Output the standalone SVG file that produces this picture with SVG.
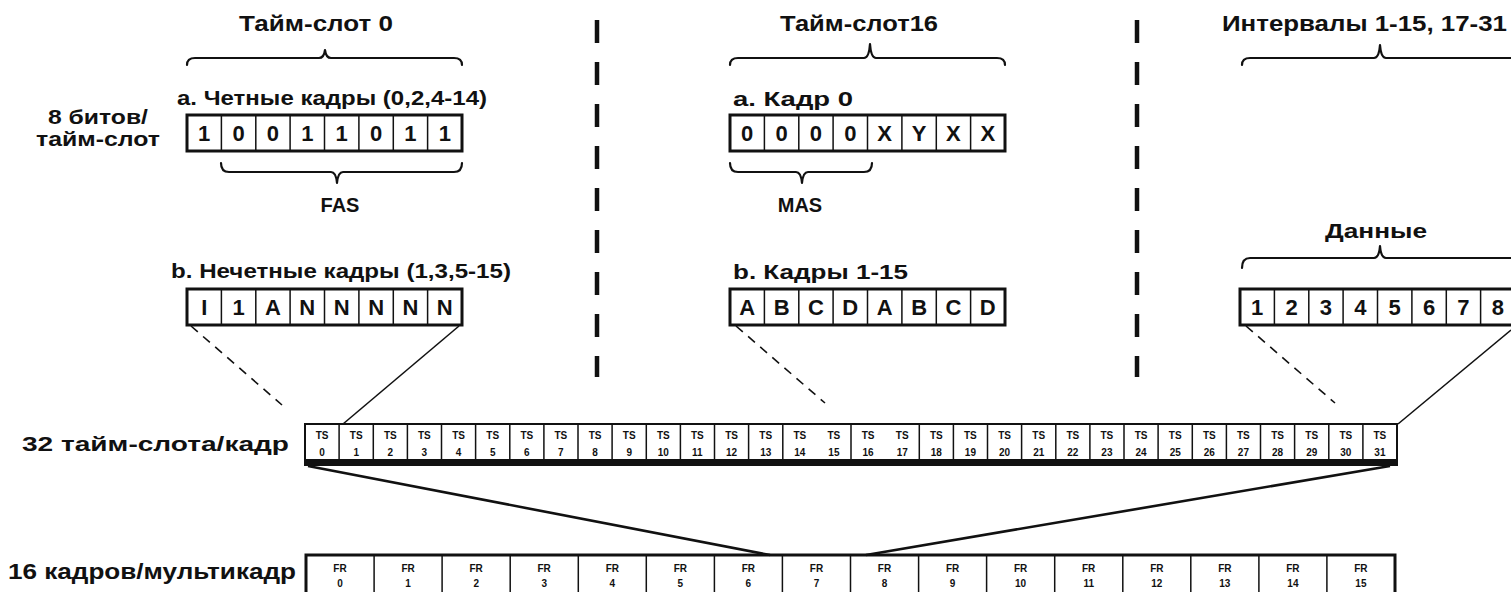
<svg xmlns="http://www.w3.org/2000/svg" xmlns:xlink="http://www.w3.org/1999/xlink" width="1511" height="592" viewBox="0 0 1511 592">
<style>
text{font-family:"Liberation Sans",Arial,sans-serif;font-weight:bold;fill:#111}
.t{font-size:22px}
.l{font-size:20px}
.b{font-size:22px;text-anchor:middle}
.s{font-size:10px;text-anchor:middle}
.f{font-size:10px;text-anchor:middle}
.m{text-anchor:middle}
.brace{fill:none;stroke:#111;stroke-width:2.2;stroke-linecap:round;stroke-linejoin:round}
.frame{fill:#fff;stroke:#111;stroke-width:3}
.div{fill:none;stroke:#111;stroke-width:1.5}
.sep{fill:none;stroke:#111;stroke-width:4.5;stroke-dasharray:23 19}
.cn{fill:none;stroke:#111;stroke-width:1.6}
.dash{stroke-dasharray:9 7}
.thick{stroke-width:2.6}
</style>
<defs>
<g id="frame8">
<rect class="frame" x="0" y="0" width="275" height="36"/>
<path class="div" d="M34.4 0V36M68.8 0V36M103.1 0V36M137.5 0V36M171.9 0V36M206.3 0V36M240.6 0V36"/>
</g>
</defs>
<rect width="1511" height="592" fill="#fff"/>

<g id="separators">
<line class="sep" x1="597" y1="20" x2="597" y2="377"/>
<line class="sep" x1="1137" y1="20" x2="1137" y2="377"/>
</g>

<g id="ts0-group">
<text class="t m" x="316" y="31" textLength="154" lengthAdjust="spacingAndGlyphs">Тайм-слот 0</text>
<path class="brace" d="M187 65Q187 58 195 58H319Q324 58 325 50Q326 58 331 58H454Q462 58 462 65"/>
<text class="l" x="48" y="124" textLength="100" lengthAdjust="spacingAndGlyphs">8 битов/</text>
<text class="l" x="36" y="146" textLength="124" lengthAdjust="spacingAndGlyphs">тайм-слот</text>
</g>

<g id="ts0-even">
<text class="l" x="177" y="105" textLength="310" lengthAdjust="spacingAndGlyphs">a. Четные кадры (0,2,4-14)</text>
<use xlink:href="#frame8" href="#frame8" transform="translate(187,115)"/>
<text class="b" y="141" x="204.2">1</text><text class="b" y="141" x="238.6">0</text><text class="b" y="141" x="272.9">0</text><text class="b" y="141" x="307.3">1</text><text class="b" y="141" x="341.7">1</text><text class="b" y="141" x="376.1">0</text><text class="b" y="141" x="410.4">1</text><text class="b" y="141" x="444.8">1</text>
<path class="brace" d="M221 163Q221 172 229 172H331Q336 172 337 183Q338 172 343 172H454Q462 172 462 163"/>
<text class="l m" x="340" y="212">FAS</text>
</g>

<g id="ts0-odd">
<text class="l" x="171" y="278" textLength="340" lengthAdjust="spacingAndGlyphs">b. Нечетные кадры (1,3,5-15)</text>
<use xlink:href="#frame8" href="#frame8" transform="translate(187,289)"/>
<text class="b" y="315" x="204.2">I</text><text class="b" y="315" x="238.6">1</text><text class="b" y="315" x="272.9">A</text><text class="b" y="315" x="307.3">N</text><text class="b" y="315" x="341.7">N</text><text class="b" y="315" x="376.1">N</text><text class="b" y="315" x="410.4">N</text><text class="b" y="315" x="444.8">N</text>
</g>

<g id="ts16-group">
<text class="t m" x="859" y="31" textLength="158" lengthAdjust="spacingAndGlyphs">Тайм-слот16</text>
<path class="brace" d="M730 65Q730 58 738 58H864Q869 58 870 44Q871 58 876 58H997Q1005 58 1005 65"/>
</g>

<g id="ts16-frame0">
<text class="l" x="733" y="106" textLength="120" lengthAdjust="spacingAndGlyphs">a. Кадр 0</text>
<use xlink:href="#frame8" href="#frame8" transform="translate(730,115)"/>
<text class="b" y="141" x="747.2">0</text><text class="b" y="141" x="781.6">0</text><text class="b" y="141" x="815.9">0</text><text class="b" y="141" x="850.3">0</text><text class="b" y="141" x="884.7">X</text><text class="b" y="141" x="919.1">Y</text><text class="b" y="141" x="953.4">X</text><text class="b" y="141" x="987.8">X</text>
<path class="brace" d="M730 163Q730 172 738 172H796Q801 172 802 183Q803 172 808 172H864Q872 172 872 163"/>
<text class="l m" x="800" y="212">MAS</text>
</g>

<g id="ts16-frames">
<text class="l" x="733" y="279" textLength="175" lengthAdjust="spacingAndGlyphs">b. Кадры 1-15</text>
<use xlink:href="#frame8" href="#frame8" transform="translate(730,289)"/>
<text class="b" y="315" x="747.2">A</text><text class="b" y="315" x="781.6">B</text><text class="b" y="315" x="815.9">C</text><text class="b" y="315" x="850.3">D</text><text class="b" y="315" x="884.7">A</text><text class="b" y="315" x="919.1">B</text><text class="b" y="315" x="953.4">C</text><text class="b" y="315" x="987.8">D</text>
</g>

<g id="data-group">
<text class="t m" x="1364.5" y="31" textLength="285" lengthAdjust="spacingAndGlyphs">Интервалы 1-15, 17-31</text>
<path class="brace" d="M1242 65Q1242 58 1250 58H1374Q1379 58 1380 45Q1381 58 1386 58H1520"/>
<text class="l m" x="1376" y="238" textLength="102" lengthAdjust="spacingAndGlyphs">Данные</text>
<path class="brace" d="M1242 268Q1242 258 1250 258H1374Q1379 258 1380 246Q1381 258 1386 258H1520"/>
<use xlink:href="#frame8" href="#frame8" transform="translate(1240,289)"/>
<text class="b" y="315" x="1257.2">1</text><text class="b" y="315" x="1291.6">2</text><text class="b" y="315" x="1325.9">3</text><text class="b" y="315" x="1360.3">4</text><text class="b" y="315" x="1394.7">5</text><text class="b" y="315" x="1429.1">6</text><text class="b" y="315" x="1463.4">7</text><text class="b" y="315" x="1497.8">8</text>
</g>

<g id="frame-row">
<text class="l" x="22" y="451" textLength="267" lengthAdjust="spacingAndGlyphs">32 тайм-слота/кадр</text>
<rect x="305" y="424" width="1092" height="38" fill="#fff" stroke="#111" stroke-width="2"/>
<rect x="304" y="459" width="1094" height="7" fill="#111"/>
<path class="div" d="M339.1 424V459M373.3 424V459M407.4 424V459M441.5 424V459M475.6 424V459M509.8 424V459M543.9 424V459M578 424V459M612.1 424V459M646.3 424V459M680.4 424V459M714.5 424V459M748.6 424V459M782.8 424V459M851 424V459M919.3 424V459M953.4 424V459M987.5 424V459M1021.6 424V459M1055.8 424V459M1089.9 424V459M1124 424V459M1158.1 424V459M1192.3 424V459M1226.4 424V459M1260.5 424V459M1294.6 424V459M1328.8 424V459M1362.9 424V459"/>
<g class="tsl">
<text class="s" y="439" x="322.1">TS</text><text class="s" y="439" x="356.2">TS</text><text class="s" y="439" x="390.3">TS</text><text class="s" y="439" x="424.4">TS</text><text class="s" y="439" x="458.6">TS</text><text class="s" y="439" x="492.7">TS</text><text class="s" y="439" x="526.8">TS</text><text class="s" y="439" x="560.9">TS</text><text class="s" y="439" x="595.1">TS</text><text class="s" y="439" x="629.2">TS</text><text class="s" y="439" x="663.3">TS</text><text class="s" y="439" x="697.4">TS</text><text class="s" y="439" x="731.6">TS</text><text class="s" y="439" x="765.7">TS</text><text class="s" y="439" x="799.8">TS</text><text class="s" y="439" x="833.9">TS</text><text class="s" y="439" x="868.1">TS</text><text class="s" y="439" x="902.2">TS</text><text class="s" y="439" x="936.3">TS</text><text class="s" y="439" x="970.4">TS</text><text class="s" y="439" x="1004.6">TS</text><text class="s" y="439" x="1038.7">TS</text><text class="s" y="439" x="1072.8">TS</text><text class="s" y="439" x="1106.9">TS</text><text class="s" y="439" x="1141.1">TS</text><text class="s" y="439" x="1175.2">TS</text><text class="s" y="439" x="1209.3">TS</text><text class="s" y="439" x="1243.4">TS</text><text class="s" y="439" x="1277.6">TS</text><text class="s" y="439" x="1311.7">TS</text><text class="s" y="439" x="1345.8">TS</text><text class="s" y="439" x="1379.9">TS</text>
<text class="s" y="456" x="322.1">0</text><text class="s" y="456" x="356.2">1</text><text class="s" y="456" x="390.3">2</text><text class="s" y="456" x="424.4">3</text><text class="s" y="456" x="458.6">4</text><text class="s" y="456" x="492.7">5</text><text class="s" y="456" x="526.8">6</text><text class="s" y="456" x="560.9">7</text><text class="s" y="456" x="595.1">8</text><text class="s" y="456" x="629.2">9</text><text class="s" y="456" x="663.3">10</text><text class="s" y="456" x="697.4">11</text><text class="s" y="456" x="731.6">12</text><text class="s" y="456" x="765.7">13</text><text class="s" y="456" x="799.8">14</text><text class="s" y="456" x="833.9">15</text><text class="s" y="456" x="868.1">16</text><text class="s" y="456" x="902.2">17</text><text class="s" y="456" x="936.3">18</text><text class="s" y="456" x="970.4">19</text><text class="s" y="456" x="1004.6">20</text><text class="s" y="456" x="1038.7">21</text><text class="s" y="456" x="1072.8">22</text><text class="s" y="456" x="1106.9">23</text><text class="s" y="456" x="1141.1">24</text><text class="s" y="456" x="1175.2">25</text><text class="s" y="456" x="1209.3">26</text><text class="s" y="456" x="1243.4">27</text><text class="s" y="456" x="1277.6">28</text><text class="s" y="456" x="1311.7">29</text><text class="s" y="456" x="1345.8">30</text><text class="s" y="456" x="1379.9">31</text>
</g>
</g>

<g id="multiframe-row">
<text class="t" x="8" y="579" textLength="288" lengthAdjust="spacingAndGlyphs">16 кадров/мультикадр</text>
<rect x="306" y="555" width="1089" height="50" fill="#fff" stroke="#111" stroke-width="3"/>
<path class="div" stroke-width="2" d="M374.1 555V592M442.1 555V592M510.2 555V592M578.3 555V592M646.3 555V592M714.4 555V592M782.4 555V592M850.5 555V592M918.6 555V592M986.6 555V592M1054.7 555V592M1122.8 555V592M1190.8 555V592M1258.9 555V592M1326.9 555V592"/>
<text class="f" y="572" x="340">FR</text><text class="f" y="572" x="408.1">FR</text><text class="f" y="572" x="476.2">FR</text><text class="f" y="572" x="544.2">FR</text><text class="f" y="572" x="612.3">FR</text><text class="f" y="572" x="680.3">FR</text><text class="f" y="572" x="748.4">FR</text><text class="f" y="572" x="816.5">FR</text><text class="f" y="572" x="884.5">FR</text><text class="f" y="572" x="952.6">FR</text><text class="f" y="572" x="1020.6">FR</text><text class="f" y="572" x="1088.7">FR</text><text class="f" y="572" x="1156.8">FR</text><text class="f" y="572" x="1224.8">FR</text><text class="f" y="572" x="1292.9">FR</text><text class="f" y="572" x="1360.9">FR</text>
<text class="f" y="587" x="340">0</text><text class="f" y="587" x="408.1">1</text><text class="f" y="587" x="476.2">2</text><text class="f" y="587" x="544.2">3</text><text class="f" y="587" x="612.3">4</text><text class="f" y="587" x="680.3">5</text><text class="f" y="587" x="748.4">6</text><text class="f" y="587" x="816.5">7</text><text class="f" y="587" x="884.5">8</text><text class="f" y="587" x="952.6">9</text><text class="f" y="587" x="1020.6">10</text><text class="f" y="587" x="1088.7">11</text><text class="f" y="587" x="1156.8">12</text><text class="f" y="587" x="1224.8">13</text><text class="f" y="587" x="1292.9">14</text><text class="f" y="587" x="1360.9">15</text>
</g>

<g id="connectors">
<line class="cn dash" x1="191" y1="326" x2="282" y2="405"/>
<line class="cn" x1="459" y1="326" x2="343" y2="424"/>
<line class="cn dash" x1="736" y1="326" x2="825" y2="403"/>
<line class="cn dash" x1="1246" y1="326" x2="1335" y2="403"/>
<line class="cn" x1="1511" y1="330" x2="1398" y2="424"/>
<line class="cn thick" x1="308" y1="466" x2="770" y2="555"/>
<line class="cn thick" x1="1390" y1="466" x2="866" y2="555"/>
</g>
</svg>
